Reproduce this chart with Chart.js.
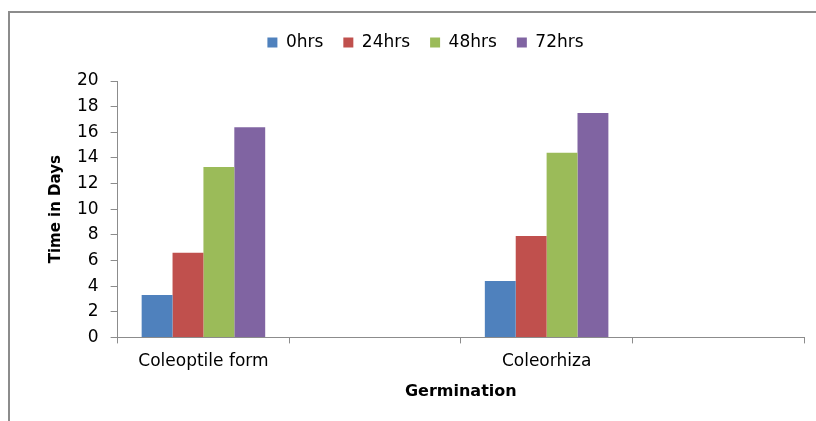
<!DOCTYPE html>
<html>
<head>
<meta charset="utf-8">
<script src="https://cdn.jsdelivr.net/npm/chart.js@4.4.1/dist/chart.umd.min.js"></script>
<style>
  body { margin: 0; background: #fff; }
  #wrap { position: relative; width: 816px; height: 421px; overflow: hidden; }
  #frame { position: absolute; left: 8px; top: 11px; width: 900px; height: 500px;
           border-left: 2px solid #8c8c8c; border-top: 2px solid #8c8c8c; pointer-events: none; }
</style>
</head>
<body>
<div id="wrap">
  <canvas id="myChart"></canvas>
  <div id="frame"></div>
</div>
<script>
// germination stages (empty slots keep the spacing of the original sheet)
const categories = ['Coleoptile form', '', 'Coleorhiza', ''];
const seriesNames = ['0hrs', '24hrs', '48hrs', '72hrs'];
const hrs0 = [3.3, null, 4.4, null];
const hrs24 = [6.6, null, 7.9, null];
const hrs48 = [13.3, null, 14.4, null];
const hrs72 = [16.4, null, 17.5, null];
const yTicks = [0, 2, 4, 6, 8, 10, 12, 14, 16, 18, 20];

const colors = ['#4F81BD', '#C0504D', '#9BBB59', '#8064A2'];
const axisGray = '#8c8c8c';
const font = 'DejaVu Sans';

// extra room between legend and plot
const legendGap = {
  id: 'legendGap',
  beforeInit(chart) {
    const fit = chart.legend.fit;
    chart.legend.fit = function () {
      fit.bind(chart.legend)();
      this.height += 20;
    };
  }
};

const ctx = document.getElementById('myChart');

const myChart = new Chart(ctx, {
  type: 'bar',
  data: {
    labels: categories,
    datasets: [hrs0, hrs24, hrs48, hrs72].map((d, i) => ({
      label: seriesNames[i],
      data: d,
      backgroundColor: colors[i],
      borderWidth: 0,
      categoryPercentage: 0.72,
      barPercentage: 1.0,
      skipNull: false
    }))
  },
  plugins: [legendGap],
  options: {
    responsive: true,
    maintainAspectRatio: false,
    animation: false,
    layout: { padding: { top: 14, left: 47, right: 12, bottom: 16 } },
    plugins: {
      legend: {
        position: 'top',
        align: 'center',
        labels: {
          boxWidth: 10,
          boxHeight: 10,
          padding: 20,
          color: '#000',
          font: { family: font, size: 17 }
        }
      },
      tooltip: { enabled: false }
    },
    scales: {
      x: {
        grid: {
          offset: true,
          drawOnChartArea: false,
          drawTicks: true,
          tickLength: 6,
          color: axisGray
        },
        border: { color: axisGray, width: 1 },
        ticks: { color: '#000', font: { family: font, size: 17 }, padding: 8, maxRotation: 0 },
        title: {
          display: true,
          text: 'Germination',
          color: '#000',
          font: { family: font, size: 16, weight: 'bold' },
          padding: { top: 2 }
        }
      },
      y: {
        min: 0,
        max: 20,
        afterBuildTicks: (axis) => { axis.ticks = yTicks.map(v => ({ value: v })); },
        grid: {
          drawOnChartArea: false,
          drawTicks: true,
          tickLength: 7,
          color: axisGray
        },
        border: { color: axisGray, width: 1 },
        ticks: { color: '#000', font: { family: font, size: 17 }, padding: 12 },
        title: {
          display: true,
          text: 'Time in Days',
          color: '#000',
          font: { family: font, size: 15, weight: 'bold' },
          padding: { top: 0, bottom: 0 }
        }
      }
    }
  }
});
</script>
</body>
</html>
